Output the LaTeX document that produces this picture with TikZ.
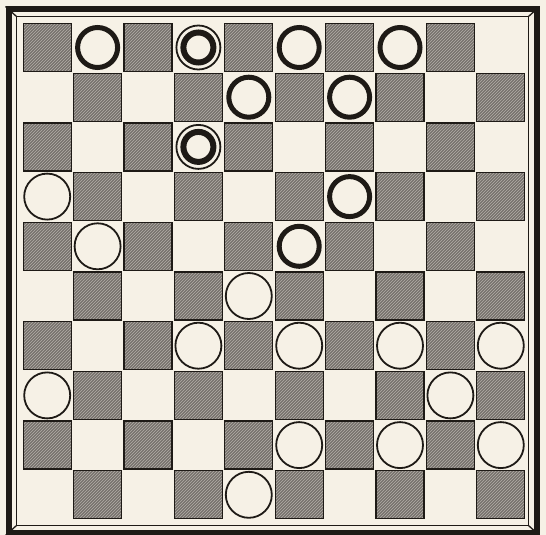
\documentclass[tikz,border=0pt]{standalone}
\usetikzlibrary{patterns}
\definecolor{paper}{HTML}{F6F1E6}
\definecolor{sqfill}{HTML}{77726D}
\definecolor{hatch}{HTML}{B3AEA8}
\definecolor{ink}{HTML}{1E1A16}
\begin{document}
\begin{tikzpicture}[x=1pt,y=-1pt,
  darksq/.style={draw=ink,line width=1.3pt,preaction={fill=sqfill},pattern=north east lines,pattern color=hatch},
  blackpc/.style={draw=ink,line width=5pt,fill=paper},
  whitepc/.style={draw=ink,line width=1.8pt,fill=paper},
  kingout/.style={draw=ink,line width=1.8pt,fill=paper},
  kingin/.style={draw=ink,line width=6pt,fill=paper},
  framethick/.style={draw=ink,line width=6pt},
  framethin/.style={draw=ink,line width=1.3pt}]
\fill[paper] (0,0) rectangle (546,535);
\useasboundingbox (0,0) rectangle (546,535);
% frame
\draw[framethick] (8.5,9.5) rectangle (536.5,532.5);
\draw[framethin] (16.5,16.5) rectangle (528.5,525.5);
\draw[framethin] (5.5,6.5) -- (16.5,16.5);
\draw[framethin] (539.5,6.5) -- (528.5,16.5);
\draw[framethin] (5.5,535.5) -- (16.5,525.5);
\draw[framethin] (539.5,535.5) -- (528.5,525.5);
% dark squares
\foreach \r in {0,...,9}{
  \foreach \c in {0,...,9}{
    \pgfmathtruncatemacro\myparity{mod(\r+\c,2)}
    \ifnum\myparity=0
      \draw[darksq] ({47.2+50.4*\c-24},{47.5+49.7*\r-24}) rectangle +(48,48);
    \fi
  }
}
% black men
\foreach \c/\r in {1/0,5/0,7/0,4/1,6/1,6/3,5/4}
  \node[circle,blackpc,minimum size=40pt,inner sep=0pt] (b\c\r) at ({47.2+50.4*\c},{47.5+49.7*\r}) {};
% black kings
\foreach \c/\r in {3/0,3/2}{
  \node[circle,kingout,minimum size=44pt,inner sep=0pt] (k\c\r) at ({47.2+50.4*\c},{47.5+49.7*\r}) {};
  \node[circle,kingin,minimum size=30pt,inner sep=0pt] (ki\c\r) at (k\c\r) {};
}
% white men
\foreach \c/\r in {0/3,1/4,4/5,3/6,5/6,7/6,9/6,0/7,8/7,5/8,7/8,9/8,4/9}
  \node[circle,whitepc,minimum size=46pt,inner sep=0pt] (w\c\r) at ({47.2+50.4*\c},{47.5+49.7*\r}) {};
\end{tikzpicture}
\end{document}
